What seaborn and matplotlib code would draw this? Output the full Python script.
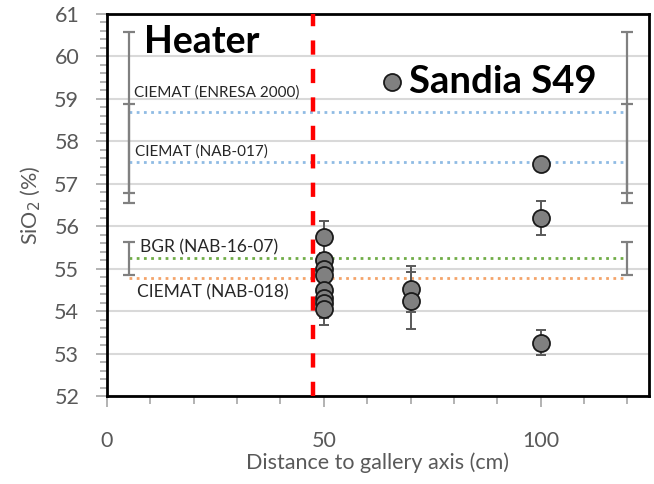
import numpy as np
import pandas as pd
import matplotlib
matplotlib.use("Agg")
import matplotlib.pyplot as plt
import seaborn as sns

# Sandia S49 samples: distance to gallery axis (cm) and SiO2 content (%)
distance = [50, 50, 50, 50, 50, 50, 50, 50, 70, 70, 100, 100, 100]
sio2 = [55.75, 55.2, 55.0, 54.85, 54.5, 54.3, 54.2, 54.05, 54.52, 54.24, 57.46, 56.2, 53.26]
sio2_err = [0.37, 0.37, 0.37, 0.37, 0.37, 0.37, 0.37, 0.37, 0.55, 0.67, 0.15, 0.4, 0.3]

# Reference (untreated bentonite) values
ref_names = ["CIEMAT (ENRESA 2000)", "CIEMAT (NAB-017)", "BGR (NAB-16-07)", "CIEMAT (NAB-018)"]
ref_values = [58.68, 57.52, 55.24, 54.77]
ref_err_low = [1.9, 0.98, 0.38, 0.0]
ref_err_high = [1.9, 1.35, 0.38, 0.0]
ref_colors = ["#8fbbe4", "#8fbbe4", "#70ad47", "#f4a46a"]
ref_x_start, ref_x_end = 5, 120

heater_position = 47.5

df = pd.DataFrame({"distance": distance, "sio2": sio2, "err": sio2_err})

sns.set_theme(style="white")
plt.rcParams["font.family"] = ["Lato", "DejaVu Sans"]

fig = plt.figure(figsize=(6.54, 4.84), dpi=100)
ax = fig.add_axes([107 / 654, 1 - 396 / 484, (649 - 107) / 654, (396 - 14) / 484])

ax.set_xlim(0, 125)
ax.set_ylim(52, 61)

# horizontal grid
ax.set_yticks(np.arange(52, 62, 1))
ax.grid(axis="y", color="#d9d9d9", lw=1.5, zorder=0)
ax.grid(axis="x", visible=False)

# reference levels with their uncertainty at both ends
for name, val, lo, hi, col in zip(ref_names, ref_values, ref_err_low, ref_err_high, ref_colors):
    ax.plot([ref_x_start, ref_x_end], [val, val], ls=(0, (1, 1.6)), lw=2.0,
            color=col, zorder=2)
    if lo > 0 or hi > 0:
        ax.errorbar([ref_x_start, ref_x_end], [val, val], yerr=[[lo, lo], [hi, hi]],
                    fmt="none", ecolor="#808080", elinewidth=1.6, capsize=4,
                    capthick=1.6, zorder=2)

label_style = dict(color="#262626", ha="left", va="center", zorder=3)
ax.text(6.2, 59.14, ref_names[0], fontsize=11, **label_style)
ax.text(6.5, 57.76, ref_names[1], fontsize=11, **label_style)
ax.text(7.5, 55.51, ref_names[2], fontsize=12.5, **label_style)
ax.text(7.0, 54.45, ref_names[3], fontsize=12.5, **label_style)

# heater boundary
ax.axvline(heater_position, color="#ff0000", lw=3.2, ls=(0, (3.2, 3.2)), zorder=3)

# sample error bars and points
ax.errorbar(df["distance"], df["sio2"], yerr=df["err"], fmt="none",
            ecolor="#595959", elinewidth=1.4, capsize=3.5, capthick=1.4, zorder=4)
sns.scatterplot(data=df, x="distance", y="sio2", s=150, color="#808080",
                edgecolor="#1a1a1a", linewidth=1.3, zorder=5, ax=ax, legend=False)

# annotations
ax.text(8.5, 60.33, "Heater", fontsize=27, fontweight="bold", color="black",
        ha="left", va="center")
ax.scatter([65.8], [59.4], s=150, color="#808080", edgecolor="#1a1a1a",
           linewidth=1.3, zorder=5)
ax.text(69.6, 59.4, "Sandia S49", fontsize=27.5, fontweight="bold", color="black",
        ha="left", va="center")

# axes, ticks and labels
ax.set_xticks([0, 50, 100])
ax.set_xticks(np.arange(0, 126, 10), minor=True)
ax.set_yticks(np.arange(52, 61.01, 0.2), minor=True)
ax.tick_params(axis="both", which="both", direction="out", color="#a6a6a6",
               width=1.2, labelcolor="#595959", labelsize=15.5)
ax.tick_params(axis="x", which="major", length=8, pad=17)
ax.tick_params(axis="x", which="minor", length=6)
ax.tick_params(axis="y", which="major", length=8, pad=12)
ax.tick_params(axis="y", which="minor", length=5)
ax.tick_params(bottom=True, left=True, which="both")

for side in ["top", "right", "left", "bottom"]:
    ax.spines[side].set_visible(True)
    ax.spines[side].set_color("black")
    ax.spines[side].set_linewidth(2.0)

ax.set_xlabel("Distance to gallery axis (cm)", fontsize=15.5, color="#595959", labelpad=1)
ax.set_ylabel("SiO$_2$ (%)", fontsize=15.5, color="#595959", labelpad=8)

fig.savefig("out.png", dpi=100)
